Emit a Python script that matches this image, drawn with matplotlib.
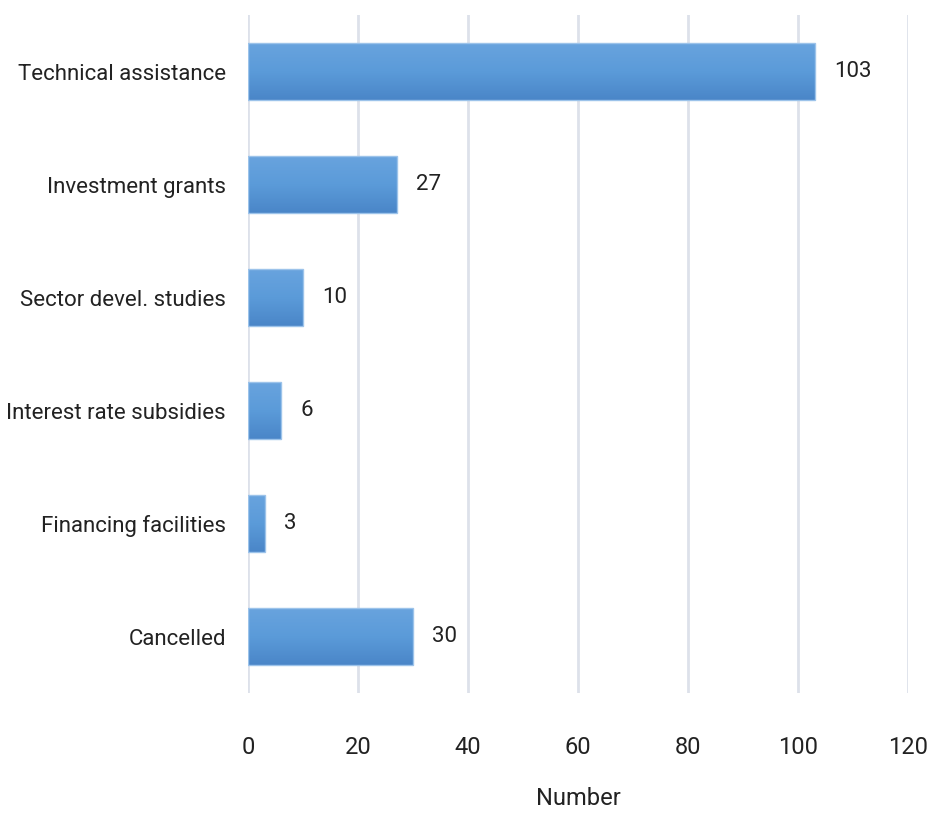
import matplotlib
matplotlib.use("Agg")
import matplotlib.pyplot as plt
import numpy as np
from matplotlib import font_manager
from matplotlib.colors import LinearSegmentedColormap

# Categories top-to-bottom and their counts
categories = ["Technical assistance", "Investment grants", "Sector devel. studies",
              "Interest rate subsidies", "Financing facilities", "Cancelled"]
counts = [103, 27, 10, 6, 3, 30]
x_ticks = [0, 20, 40, 60, 80, 100, 120]

installed = {f.name for f in font_manager.fontManager.ttflist}
family = [f for f in ["Liberation Sans Narrow", "Roboto", "DejaVu Sans"] if f in installed]
plt.rcParams["font.family"] = family

fig = plt.figure(figsize=(9.33, 8.22), dpi=100)
ax = fig.add_axes([248 / 933, 1 - 693 / 822, 660 / 933, 678 / 822])

ypos = np.arange(len(categories))[::-1]
bar_h = 0.5
grad = LinearSegmentedColormap.from_list("bar", ["#68a3de", "#5b9bd9", "#4a86c8"])
gimg = np.linspace(0, 1, 64).reshape(-1, 1)

for y, v in zip(ypos, counts):
    bars = ax.barh(y, v, height=bar_h, color="none", edgecolor="#9cc3ea",
                   linewidth=1.0, zorder=3)
    im = ax.imshow(gimg, cmap=grad, aspect="auto", zorder=2,
                   extent=(0, v, y - bar_h / 2, y + bar_h / 2), origin="upper")
    im.set_clip_path(bars.patches[0])
    ax.text(v + 3.5, y, str(v), va="center", ha="left", fontsize=16, color="#222222")

ax.set_xlim(0, 120)
ax.set_ylim(-0.5, len(categories) - 0.5)
ax.set_xticks(x_ticks)
ax.set_yticks(ypos)
ax.set_yticklabels(categories)
ax.tick_params(axis="both", length=0, labelsize=17, colors="#222222")
ax.tick_params(axis="y", pad=16, labelsize=16)
ax.tick_params(axis="x", pad=31)
ax.grid(axis="x", color="#dde1ea", linewidth=2.0, zorder=0)
ax.set_axisbelow(True)
for s in ax.spines.values():
    s.set_visible(False)
ax.set_xlabel("Number", fontsize=17, color="#222222", labelpad=20)

fig.savefig("out.png", dpi=100)
